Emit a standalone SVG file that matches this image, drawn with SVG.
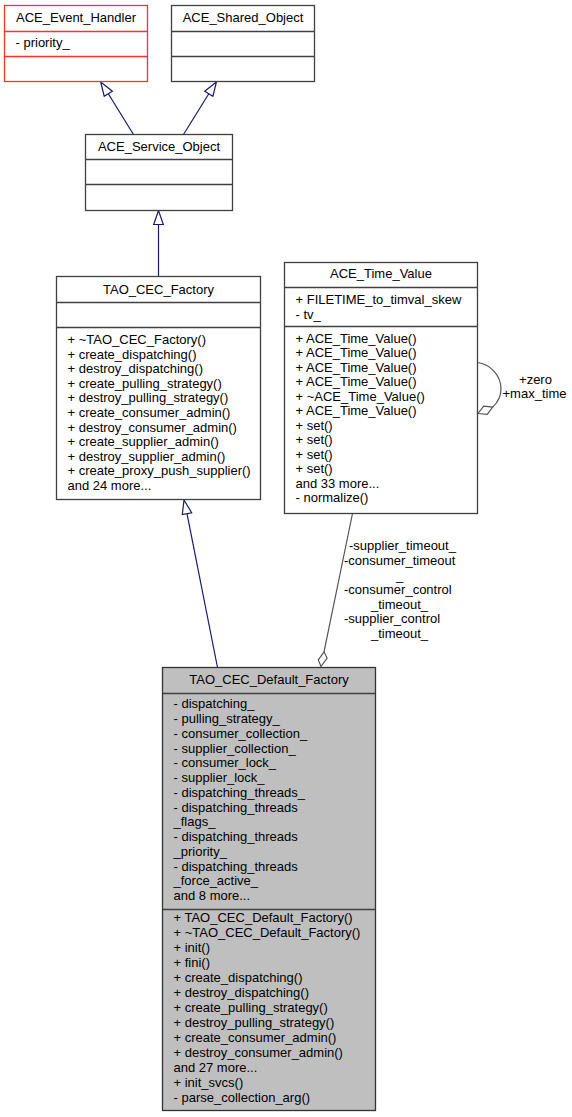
<svg xmlns="http://www.w3.org/2000/svg" width="572" height="1117" viewBox="0 0 572 1117">
<style>
text{font-family:"Liberation Sans",Arial,Helvetica,sans-serif;font-size:13px;fill:#000}
.c{text-anchor:middle}
.box{fill:#fff;stroke:#404040;stroke-width:1.3}
.red{fill:#fff;stroke:#ff3030;stroke-width:1.3}
.root{fill:#bfbfbf;stroke:#333;stroke-width:1.3}
.div{stroke:#404040;stroke-width:1.3}
.divr{stroke:#ff3030;stroke-width:1.3}
.inh{fill:none;stroke:#191970;stroke-width:1.2}
.ahead{fill:#fff;stroke:#191970;stroke-width:1.2}
.use{fill:none;stroke:#555;stroke-width:1.2}
.dia{fill:#fff;stroke:#555;stroke-width:1.2}
</style>
<rect width="572" height="1117" fill="#fff"/>
<g id="connectors">
<path class="inh" d="M133.5,134.5 L108.3,93.7"/>
<polygon class="ahead" points="100.7,82 104.2,96.2 112.4,91.2"/>
<path class="inh" d="M183.5,134.5 L208.8,93.7"/>
<polygon class="ahead" points="216.4,82 204.7,91.2 212.9,96.2"/>
<path class="inh" d="M158.5,276.5 L158.5,224.5"/>
<polygon class="ahead" points="158.5,210.5 153.7,224.5 163.3,224.5"/>
<path class="inh" d="M217.5,667.5 L187,513.7"/>
<polygon class="ahead" points="184,500 182.3,514.6 191.7,512.8"/>
<path class="use" d="M352.5,513.5 L324,651.8"/>
<polygon class="dia" points="321,666.5 327.1,658.1 324,651.8 318.3,659.9"/>
<path class="use" d="M477.5,362.5 C490,364 501,375 501,389 C501,398 497,403 492.7,407.1"/>
<polygon class="dia" points="478,413.5 487.3,414.4 492.7,407.1 483.7,406.2"/>
<text x="349" y="549.5">-supplier_timeout_</text>
<text x="344" y="565">-consumer_timeout</text>
<text x="396" y="580">_</text>
<text x="344" y="594">-consumer_control</text>
<text x="371" y="609">_timeout_</text>
<text x="344" y="623">-supplier_control</text>
<text x="371" y="637.5">_timeout_</text>
<text class="c" x="535.5" y="383.5">+zero</text>
<text class="c" x="534.5" y="397.5">+max_time</text>
</g>
<g id="ACE_Event_Handler">
<rect class="red" x="4.5" y="5.5" width="143" height="76"/>
<line class="divr" x1="4.5" y1="31.5" x2="147.5" y2="31.5"/>
<line class="divr" x1="4.5" y1="56.5" x2="147.5" y2="56.5"/>
<text class="c" x="76" y="22">ACE_Event_Handler</text>
<text x="15.5" y="47">- priority_</text>
</g>
<g id="ACE_Shared_Object">
<rect class="box" x="171.5" y="5.5" width="143" height="76"/>
<line class="div" x1="171.5" y1="31.5" x2="314.5" y2="31.5"/>
<line class="div" x1="171.5" y1="56.5" x2="314.5" y2="56.5"/>
<text class="c" x="243" y="22">ACE_Shared_Object</text>
</g>
<g id="ACE_Service_Object">
<rect class="box" x="85.5" y="134.5" width="147" height="76"/>
<line class="div" x1="85.5" y1="159.5" x2="232.5" y2="159.5"/>
<line class="div" x1="85.5" y1="184.5" x2="232.5" y2="184.5"/>
<text class="c" x="159" y="150.5">ACE_Service_Object</text>
</g>
<g id="TAO_CEC_Factory">
<rect class="box" x="56.5" y="276.5" width="204" height="223"/>
<line class="div" x1="56.5" y1="302.5" x2="260.5" y2="302.5"/>
<line class="div" x1="56.5" y1="327.5" x2="260.5" y2="327.5"/>
<text class="c" x="158.5" y="293.5">TAO_CEC_Factory</text>
<text x="67.5" y="344">+ ~TAO_CEC_Factory()</text>
<text x="67.5" y="358.6">+ create_dispatching()</text>
<text x="67.5" y="373.2">+ destroy_dispatching()</text>
<text x="67.5" y="387.8">+ create_pulling_strategy()</text>
<text x="67.5" y="402.4">+ destroy_pulling_strategy()</text>
<text x="67.5" y="417">+ create_consumer_admin()</text>
<text x="67.5" y="431.6">+ destroy_consumer_admin()</text>
<text x="67.5" y="446.2">+ create_supplier_admin()</text>
<text x="67.5" y="460.8">+ destroy_supplier_admin()</text>
<text x="67.5" y="475.4">+ create_proxy_push_supplier()</text>
<text x="67.5" y="490">and 24 more...</text>
</g>
<g id="ACE_Time_Value">
<rect class="box" x="284.5" y="262.5" width="193" height="251"/>
<line class="div" x1="284.5" y1="287.5" x2="477.5" y2="287.5"/>
<line class="div" x1="284.5" y1="326.5" x2="477.5" y2="326.5"/>
<text class="c" x="381" y="278">ACE_Time_Value</text>
<text x="295.5" y="304">+ FILETIME_to_timval_skew</text>
<text x="295.5" y="319">- tv_</text>
<text x="295.5" y="342.5">+ ACE_Time_Value()</text>
<text x="295.5" y="357">+ ACE_Time_Value()</text>
<text x="295.5" y="371.5">+ ACE_Time_Value()</text>
<text x="295.5" y="386">+ ACE_Time_Value()</text>
<text x="295.5" y="400.5">+ ~ACE_Time_Value()</text>
<text x="295.5" y="415">+ ACE_Time_Value()</text>
<text x="295.5" y="429.5">+ set()</text>
<text x="295.5" y="444">+ set()</text>
<text x="295.5" y="458.5">+ set()</text>
<text x="295.5" y="473">+ set()</text>
<text x="295.5" y="487.5">and 33 more...</text>
<text x="295.5" y="502">- normalize()</text>
</g>
<g id="TAO_CEC_Default_Factory">
<rect class="root" x="162.5" y="667.5" width="213" height="443"/>
<line class="div" x1="162.5" y1="693.5" x2="375.5" y2="693.5"/>
<line class="div" x1="162.5" y1="909.5" x2="375.5" y2="909.5"/>
<text class="c" x="269" y="684">TAO_CEC_Default_Factory</text>
<text x="173.5" y="708.3">- dispatching_</text>
<text x="173.5" y="723">- pulling_strategy_</text>
<text x="173.5" y="737.8">- consumer_collection_</text>
<text x="173.5" y="752.5">- supplier_collection_</text>
<text x="173.5" y="767.3">- consumer_lock_</text>
<text x="173.5" y="782">- supplier_lock_</text>
<text x="173.5" y="796.8">- dispatching_threads_</text>
<text x="173.5" y="811.5">- dispatching_threads</text>
<text x="173.5" y="826.3">_flags_</text>
<text x="173.5" y="841">- dispatching_threads</text>
<text x="173.5" y="855.8">_priority_</text>
<text x="173.5" y="870.5">- dispatching_threads</text>
<text x="173.5" y="885.3">_force_active_</text>
<text x="173.5" y="900">and 8 more...</text>
<text x="173.5" y="922">+ TAO_CEC_Default_Factory()</text>
<text x="173.5" y="937">+ ~TAO_CEC_Default_Factory()</text>
<text x="173.5" y="952">+ init()</text>
<text x="173.5" y="967">+ fini()</text>
<text x="173.5" y="982">+ create_dispatching()</text>
<text x="173.5" y="997">+ destroy_dispatching()</text>
<text x="173.5" y="1012">+ create_pulling_strategy()</text>
<text x="173.5" y="1027">+ destroy_pulling_strategy()</text>
<text x="173.5" y="1042">+ create_consumer_admin()</text>
<text x="173.5" y="1057">+ destroy_consumer_admin()</text>
<text x="173.5" y="1072">and 27 more...</text>
<text x="173.5" y="1087">+ init_svcs()</text>
<text x="173.5" y="1102">- parse_collection_arg()</text>
</g>
</svg>
